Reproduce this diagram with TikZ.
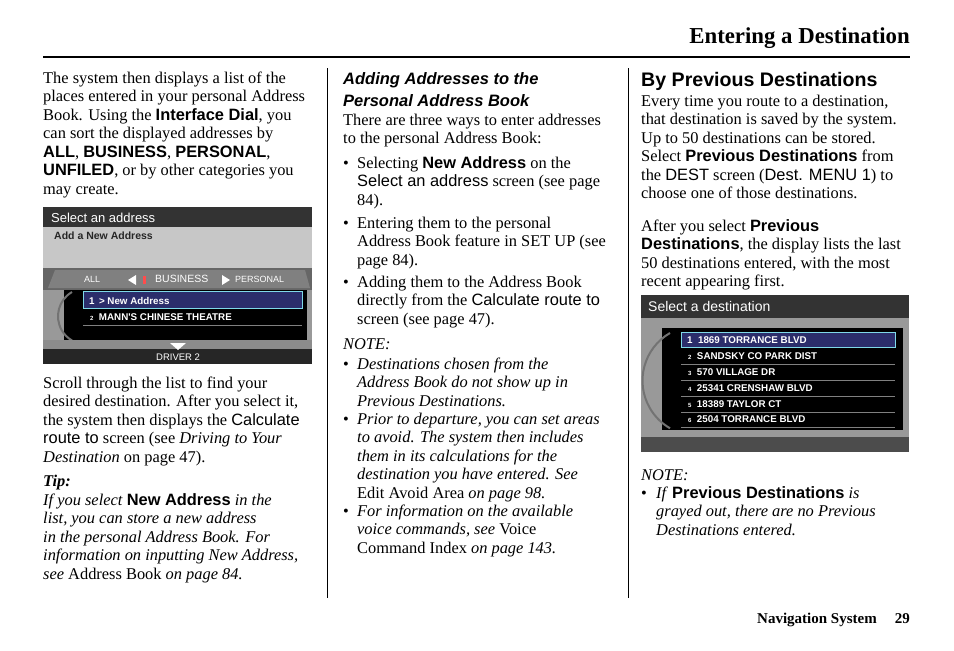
\documentclass[tikz,border=0pt]{standalone}
\usepackage{fontspec}
\setmainfont{Liberation Serif}
\newfontfamily\ar{Liberation Sans}
\newcommand\sv[1]{{\ar #1}}
\newcommand\sbb[1]{{\ar\bfseries #1}}
\definecolor{hl}{HTML}{2B2D6B}
\definecolor{cy}{HTML}{7FD8E8}
\tikzset{t/.style={anchor=base west,inner sep=0,font=\fontsize{16.4}{18}\selectfont},
 tr/.style={anchor=base east,inner sep=0},
 scr/.style={anchor=base west,inner sep=0,text=white,font=\ar\bfseries\fontsize{9.8}{10}\selectfont},
 rule/.style={line width=1.6pt}}
\begin{document}
\begin{tikzpicture}[x=1pt,y=-1pt]
\useasboundingbox (0,0) rectangle (954,651);
% header
\node[tr,font=\bfseries\fontsize{22.8}{24}\selectfont] (hdr) at (910,43) {Entering a Destination};
\draw[rule] (43,57) -- (910,57);
\draw[line width=0.8pt] (327,68) -- (327,598);
\draw[line width=0.8pt] (628,68) -- (628,598);
\node[tr,font=\bfseries\fontsize{15}{16}\selectfont] (ftr) at (910,623) {Navigation System\hspace{18pt}29};
% column 1
\node[t] at (43,83) {The system then displays a list of the};
\node[t] at (43,101.5) {places entered in your personal Address};
\node[t] at (43,120) {Book. Using the \sbb{Interface Dial}, you};
\node[t] at (43,138.5) {can sort the displayed addresses by};
\node[t] at (43,157) {\sbb{ALL}, \sbb{BUSINESS}, \sbb{PERSONAL},};
\node[t] at (43,175.5) {\sbb{UNFILED}, or by other categories you};
\node[t] at (43,194) {may create.};
% screen 1
\fill[black!85] (43,207) rectangle (312,364);
\fill[black!80] (43,207) rectangle (312,227);
\node[scr,font=\ar\fontsize{13}{14}\selectfont] (s1t) at (51,222) {Select an address};
\fill[black!22] (43,227) rectangle (312,268);
\node[scr,text=black!85,font=\ar\bfseries\fontsize{10.5}{11}\selectfont] (s1a) at (54,239) {Add a New Address};
\fill[black!60] (43,268) rectangle (312,290);
\fill[black!50] (55,270) -- (305,270) -- (310,288) -- (48,288) -- cycle;
\node[scr,font=\ar\fontsize{9}{9}\selectfont] at (84,282) {ALL};
\fill[white] (136,275) -- (136,285) -- (128,280) -- cycle;
\node[scr,font=\ar\fontsize{10.5}{10}\selectfont] at (155,282) {BUSINESS};
\fill[red!70] (143,276) rectangle (146,284);
\fill[white] (222,275) -- (222,285) -- (230,280) -- cycle;
\node[scr,font=\ar\fontsize{9}{9}\selectfont] at (235,282) {PERSONAL};
\fill[black!40] (43,290) rectangle (312,340);
\fill[black] (64,290) rectangle (307,340);
\draw[black!55,line width=2pt] (72,292) arc (240:120:28);
\fill[hl] (83,291) rectangle (302,308);
\draw[cy,line width=1pt] (83,291) rectangle (302,308);
\node[scr] (s1r1) at (89,304) {1 \,> New Address};
\node[scr] (s1r2) at (90,320) {{\fontsize{6}{7}\selectfont 2}\ \ MANN'S CHINESE THEATRE};
\draw[black!50] (83,325) -- (302,325);
\fill[black!45] (43,340) rectangle (312,349);
\fill[white] (170,343) -- (186,343) -- (178,350) -- cycle;
\node[scr,font=\ar\fontsize{9.5}{9}\selectfont] (s1d) at (156,360) {DRIVER 2};
% col 1 cont
\node[t] at (43,388) {Scroll through the list to find your};
\node[t] at (43,406.5) {desired destination. After you select it,};
\node[t] at (43,425) {the system then displays the \sv{Calculate}};
\node[t] at (43,443.5) {\sv{route to} screen (see \textit{Driving to Your}};
\node[t] at (43,462) {\textit{Destination} on page 47).};
\node[t] at (43,486) {\textbf{\textit{Tip:}}};
\node[t] at (43,505) {\textit{If you select} \sbb{New Address} \textit{in the}};
\node[t] at (43,523.5) {\textit{list, you can store a new address}};
\node[t] at (43,542) {\textit{in the personal Address Book. For}};
\node[t] at (43,560.5) {\textit{information on inputting New Address,}};
\node[t] at (43,579) {\textit{see} Address Book \textit{on page 84.}};
% column 2
\node[t,font=\ar\bfseries\itshape\fontsize{16.5}{16}\selectfont] at (343,84) {Adding Addresses to the};
\node[t,font=\ar\bfseries\itshape\fontsize{16.5}{16}\selectfont] at (343,106) {Personal Address Book};
\node[t] at (343,125) {There are three ways to enter addresses};
\node[t] at (343,143.5) {to the personal Address Book:};
\node[t] at (343,168) {•}; \node[t] at (357,168) {Selecting \sbb{New Address} on the};
\node[t] at (357,186.5) {\sv{Select an address} screen (see page};
\node[t] at (357,205) {84).};
\node[t] at (343,228) {•}; \node[t] at (357,228) {Entering them to the personal};
\node[t] at (357,246.5) {Address Book feature in SET UP (see};
\node[t] at (357,265) {page 84).};
\node[t] at (343,287) {•}; \node[t] at (357,287) {Adding them to the Address Book};
\node[t] at (357,305.5) {directly from the \sv{Calculate route to}};
\node[t] at (357,324) {screen (see page 47).};
\node[t] at (343,349) {\textit{NOTE:}};
\node[t] at (343,369) {•}; \node[t] at (357,369) {\textit{Destinations chosen from the}};
\node[t] at (357,387.5) {\textit{Address Book do not show up in}};
\node[t] at (357,406) {\textit{Previous Destinations.}};
\node[t] at (343,424) {•}; \node[t] at (357,424) {\textit{Prior to departure, you can set areas}};
\node[t] at (357,442.5) {\textit{to avoid. The system then includes}};
\node[t] at (357,461) {\textit{them in its calculations for the}};
\node[t] at (357,479.5) {\textit{destination you have entered. See}};
\node[t] at (357,498) {Edit Avoid Area \textit{on page 98.}};
\node[t] at (343,516) {•}; \node[t] at (357,516) {\textit{For information on the available}};
\node[t] at (357,534.5) {\textit{voice commands, see} Voice};
\node[t] at (357,553) {Command Index \textit{on page 143.}};
% column 3
\node[t,font=\ar\bfseries\fontsize{19.6}{20}\selectfont] at (641,86) {By Previous Destinations};
\node[t] at (641,106) {Every time you route to a destination,};
\node[t] at (641,124.5) {that destination is saved by the system.};
\node[t] at (641,143) {Up to 50 destinations can be stored.};
\node[t] at (641,161.5) {Select \sbb{Previous Destinations} from};
\node[t] at (641,180) {the \sv{DEST} screen (\sv{Dest. MENU 1}) to};
\node[t] at (641,198.5) {choose one of those destinations.};
\node[t] at (641,231) {After you select \sbb{Previous}};
\node[t] at (641,249.5) {\sbb{Destinations}, the display lists the last};
\node[t] at (641,268) {50 destinations entered, with the most};
\node[t] at (641,286.5) {recent appearing first.};
% screen 2
\fill[black!85] (641,295) rectangle (909,452);
\fill[black!80] (641,295) rectangle (909,318);
\node[scr,font=\ar\fontsize{14}{14}\selectfont] (s2t) at (648,311) {Select a destination};
\fill[black!40] (641,318) rectangle (909,437);
\fill[black] (662,328) rectangle (903,430);
\draw[black!55,line width=2pt] (670,333) arc (240:120:55);
\fill[hl] (681,332) rectangle (895,347);
\draw[cy,line width=1pt] (681,332) rectangle (895,347);
\node[scr] (r1) at (687,343.5) {1\ \ 1869 TORRANCE BLVD};
\foreach \n/\y/\s in {2/359/SANDSKY CO PARK DIST,3/375/570 VILLAGE DR,4/391/25341 CRENSHAW BLVD,5/407/18389 TAYLOR CT,6/422/2504 TORRANCE BLVD}{
 \node[scr] (r\n) at (688,\y) {{\fontsize{6}{7}\selectfont\n}\ \ \s};
 \draw[black!50] (681,\y+5) -- (895,\y+5);}
\fill[black!70] (641,437) rectangle (909,452);
\node[t] at (641,480) {\textit{NOTE:}};
\node[t] at (641,498) {•}; \node[t] at (656,498) {\textit{If} \sbb{Previous Destinations} \textit{is}};
\node[t] at (656,516.5) {\textit{grayed out, there are no Previous}};
\node[t] at (656,535) {\textit{Destinations entered.}};
\end{tikzpicture}
\end{document}
